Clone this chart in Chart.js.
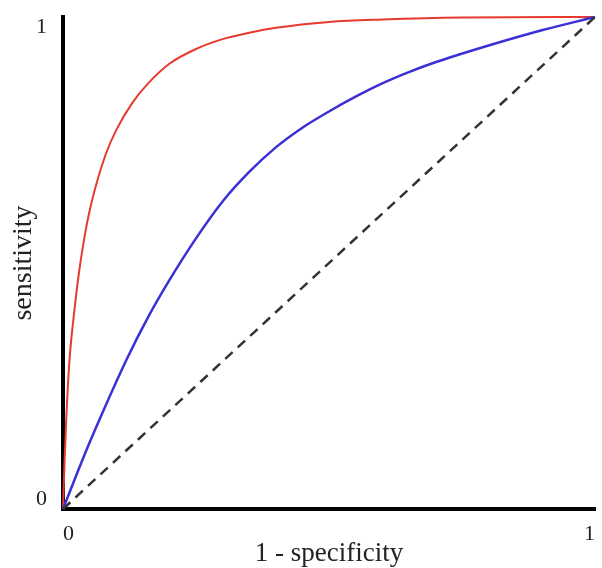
<!DOCTYPE html>
<html>
<head>
<meta charset="utf-8">
<script src="https://cdn.jsdelivr.net/npm/chart.js@4/dist/chart.umd.min.js"></script>
<style>
  html, body { margin: 0; padding: 0; background: #fff; }
  #wrap { width: 602px; height: 568px; }
</style>
</head>
<body>
<div id="wrap"><canvas id="roc"></canvas></div>
<script>
// ROC curves (x = 1 - specificity, y = sensitivity)
const redX  = [0, 0.003, 0.006, 0.012, 0.02, 0.03, 0.045, 0.06, 0.08, 0.10, 0.13, 0.16, 0.20, 0.25, 0.30, 0.35, 0.40, 0.50, 0.60, 0.75, 1];
const redY  = [0, 0.10, 0.18, 0.30, 0.39, 0.48, 0.58, 0.65, 0.72, 0.77, 0.825, 0.865, 0.905, 0.935, 0.955, 0.968, 0.978, 0.99, 0.995, 0.999, 1];
const blueX = [0, 0.02, 0.05, 0.08, 0.12, 0.16, 0.20, 0.25, 0.30, 0.35, 0.40, 0.45, 0.50, 0.55, 0.60, 0.65, 0.70, 0.80, 0.90, 1];
const blueY = [0, 0.055, 0.135, 0.21, 0.305, 0.39, 0.465, 0.55, 0.625, 0.685, 0.735, 0.775, 0.808, 0.838, 0.865, 0.888, 0.908, 0.942, 0.973, 1];
const diagX = [0, 1];
const diagY = [0, 1];
const xTicks = [0, 1];
const yTicks = [0, 1];

const FONT = "'Liberation Serif', 'Times New Roman', serif";
const TEXT = '#222';

function toPoints(xs, ys) {
  return xs.map((x, i) => ({ x: x, y: ys[i] }));
}

function fixedTicks(values) {
  return (s) => { s.ticks = values.map(v => ({ value: v })); };
}

// force a box size and drop the label overhang padding chart.js adds
function fixSize(prop, size) {
  return (s) => {
    s[prop] = size;
    s.paddingTop = 0;
    s.paddingBottom = 0;
    s.paddingLeft = 0;
    s.paddingRight = 0;
  };
}

// y labels sit just inside the axis ends: an empty line pushes them inward
function yLabel(v) {
  return v === yTicks[yTicks.length - 1] ? ['', String(v)] : [String(v), ''];
}

const ctx = document.getElementById('roc').getContext('2d');

new Chart(ctx, {
  type: 'scatter',
  data: {
    datasets: [
      {
        label: 'chance',
        data: toPoints(diagX, diagY),
        showLine: true,
        borderColor: '#333',
        borderWidth: 2.5,
        borderDash: [10, 7],
        pointRadius: 0,
        clip: false
      },
      {
        label: 'test B',
        data: toPoints(blueX, blueY),
        showLine: true,
        borderColor: '#3b2fd6',
        borderWidth: 2.5,
        cubicInterpolationMode: 'monotone',
        pointRadius: 0,
        clip: false
      },
      {
        label: 'test A',
        data: toPoints(redX, redY),
        showLine: true,
        borderColor: '#e8392e',
        borderWidth: 2,
        cubicInterpolationMode: 'monotone',
        pointRadius: 0,
        clip: false
      }
    ]
  },
  options: {
    responsive: true,
    maintainAspectRatio: false,
    animation: false,
    layout: { padding: { top: 17, right: 7, left: 0, bottom: 0 } },
    plugins: {
      legend: { display: false },
      tooltip: { enabled: false }
    },
    scales: {
      x: {
        type: 'linear',
        min: 0,
        max: 1,
        afterBuildTicks: fixedTicks(xTicks),
        afterFit: fixSize('height', 59),
        grid: { display: false, drawTicks: false },
        border: { display: true, color: '#000', width: 4 },
        ticks: {
          align: 'inner',
          padding: 12,
          color: TEXT,
          font: { family: FONT, size: 22 },
          callback: (v) => String(v)
        },
        title: {
          display: true,
          text: '1 - specificity',
          color: TEXT,
          font: { family: FONT, size: 27, lineHeight: 1 },
          padding: { top: 0, bottom: 1 }
        }
      },
      y: {
        type: 'linear',
        min: 0,
        max: 1,
        afterBuildTicks: fixedTicks(yTicks),
        afterFit: fixSize('width', 63),
        grid: { display: false, drawTicks: false },
        border: { display: true, color: '#000', width: 4 },
        ticks: {
          padding: 16,
          color: TEXT,
          font: { family: FONT, size: 22, lineHeight: 0.9 },
          callback: yLabel
        },
        title: {
          display: true,
          text: 'sensitivity',
          color: TEXT,
          font: { family: FONT, size: 28, lineHeight: 1 },
          padding: { top: 10, bottom: 0 }
        }
      }
    }
  }
});
</script>
</body>
</html>
